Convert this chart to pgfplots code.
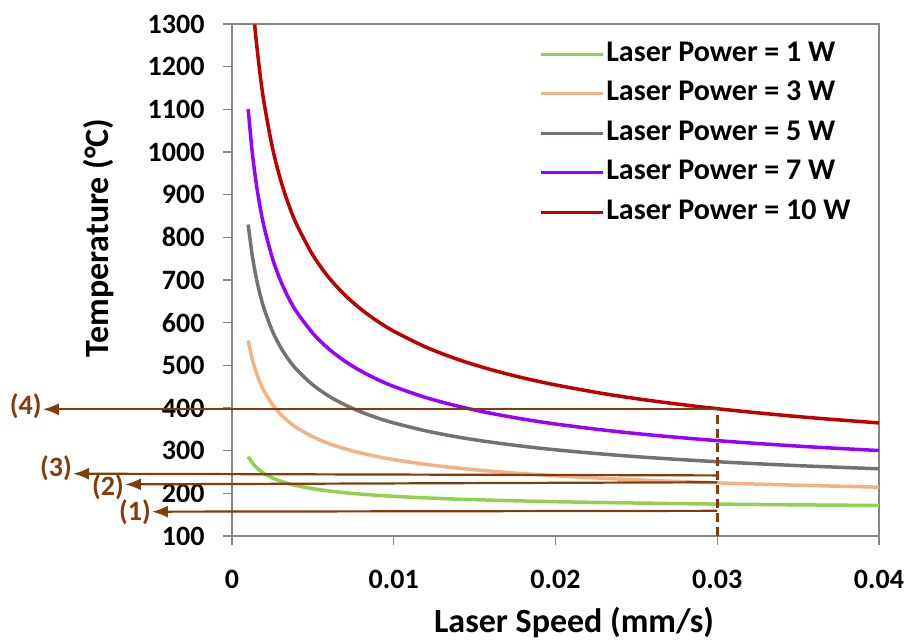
\documentclass[border=0pt]{standalone}
\usepackage{pgfplots}
\pgfplotsset{compat=1.18}
\usepackage{fontspec}
\setmainfont{Carlito}
\usetikzlibrary{arrows.meta}
\definecolor{cgreen}{HTML}{92D050}
\definecolor{corange}{HTML}{F4B183}
\definecolor{cgray}{HTML}{767171}
\definecolor{cpurple}{HTML}{9900FF}
\definecolor{cred}{HTML}{C00000}
\definecolor{cbrown}{HTML}{843C0C}
\definecolor{caxis}{HTML}{868686}
\begin{document}
\begin{tikzpicture}
\begin{axis}[
  scale only axis, width=647pt, height=512pt,
  xmin=0, xmax=0.04, ymin=100, ymax=1300,
  xtick={0,0.01,0.02,0.03,0.04}, xticklabels={0,0.01,0.02,0.03,0.04},
  scaled x ticks=false,
  ytick={100,200,...,1300},
  /pgf/number format/assume math mode=true,
  /pgf/number format/1000 sep={},
  tick align=outside, xtick pos=left, ytick pos=left,
  major tick length=9pt,
  every tick/.style={caxis, line width=1.2pt},
  axis line style={caxis, line width=1.5pt},
  tick label style={font=\fontsize{28}{28}\selectfont\bfseries},
  yticklabel style={xshift=-15pt},
  xticklabel style={yshift=-22pt},
  xlabel={Laser Speed (mm/s)}, ylabel={Temperature (°C)},
  label style={font=\fontsize{34}{34}\selectfont\bfseries},
  xlabel style={at={(axis description cs:0.5286,-0.17)}, anchor=center},
  ylabel style={at={(axis description cs:-0.2056,0.582)}, anchor=center},
  clip=false,
  legend cell align=left,
  legend style={at={(axis description cs:0.47,0.9785)}, anchor=north west, draw=none, fill=none,
    font=\fontsize{30}{30}\selectfont\bfseries, row sep=5.5pt,
    nodes={inner sep=2pt, text height=22pt, text depth=8pt}},
  legend image code/.code={\draw[#1, line width=3pt] (0pt,0pt) -- (62pt,0pt);},
  every axis plot/.append style={line width=3.5pt, smooth},
]
\addplot[cgreen] coordinates {
(0.001,286.0) (0.00125,271.6) (0.0015,261.0) (0.00175,252.8) (0.002,246.2) (0.0025,236.0)
(0.003,228.5) (0.0035,222.7) (0.004,218.0) (0.005,210.8) (0.006,205.5) (0.007,201.4)
(0.008,198.1) (0.009,195.3) (0.010,193.0) (0.012,189.3) (0.014,186.3) (0.016,184.0)
(0.018,182.1) (0.020,180.4) (0.023,178.4) (0.026,176.7) (0.030,174.8) (0.035,173.0) (0.040,171.5)};
\addlegendentry{Laser Power = 1 W}
\addplot[corange] coordinates {
(0.001,557.9) (0.00125,514.9) (0.0015,483.1) (0.00175,458.4) (0.002,438.5) (0.0025,408.0)
(0.003,385.5) (0.0035,368.0) (0.004,354.0) (0.005,332.4) (0.006,316.5) (0.007,304.2)
(0.008,294.2) (0.009,286.0) (0.010,279.0) (0.012,267.8) (0.014,259.0) (0.016,252.0)
(0.018,246.2) (0.020,241.2) (0.023,235.1) (0.026,230.0) (0.030,224.5) (0.035,219.0) (0.040,214.5)};
\addlegendentry{Laser Power = 3 W}
\addplot[cgray] coordinates {
(0.001,829.9) (0.00125,758.1) (0.0015,705.1) (0.00175,664.0) (0.002,630.8) (0.0025,580.0)
(0.003,542.5) (0.0035,513.4) (0.004,489.9) (0.005,454.1) (0.006,427.6) (0.007,407.0)
(0.008,390.4) (0.009,376.6) (0.010,365.0) (0.012,346.3) (0.014,331.7) (0.016,320.0)
(0.018,310.3) (0.020,302.0) (0.023,291.8) (0.026,283.3) (0.030,274.1) (0.035,264.9) (0.040,257.5)};
\addlegendentry{Laser Power = 5 W}
\addplot[cpurple] coordinates {
(0.001,1100.3) (0.00125,999.9) (0.0015,925.9) (0.00175,868.3) (0.002,821.9) (0.0025,751.0)
(0.003,698.6) (0.0035,657.9) (0.004,625.1) (0.005,575.0) (0.006,537.9) (0.007,509.2)
(0.008,486.0) (0.009,466.8) (0.010,450.5) (0.012,424.3) (0.014,404.0) (0.016,387.6)
(0.018,374.0) (0.020,362.5) (0.023,348.2) (0.026,336.4) (0.030,323.5) (0.035,310.6) (0.040,300.3)};
\addlegendentry{Laser Power = 7 W}
\addplot[cred] coordinates {
(0.0014,1299.0) (0.0015,1260.3) (0.00175,1177.9) (0.002,1111.5) (0.0025,1010.0)
(0.003,935.1) (0.0035,876.8) (0.004,829.9) (0.005,758.1) (0.006,705.1) (0.007,663.9)
(0.008,630.7) (0.009,603.3) (0.010,580.0) (0.012,542.5) (0.014,513.4) (0.016,490.0)
(0.018,470.5) (0.020,454.1) (0.023,433.5) (0.026,416.7) (0.030,398.3) (0.035,379.8) (0.040,365.0)};
\addlegendentry{Laser Power = 10 W}
% annotation arrows
\addplot[cbrown, line width=2.8pt, dash pattern=on 9pt off 5pt, forget plot, sharp plot] coordinates {(0.03,100) (0.03,400)};
\addplot[cbrown, line width=2.2pt, sharp plot, -{Latex[length=16pt,width=12pt]}, forget plot] coordinates {(0.03,397) (-0.0117,397)};
\addplot[cbrown, line width=2.2pt, sharp plot, -{Latex[length=16pt,width=12pt]}, forget plot] coordinates {(0.03,242) (-0.00983,246)};
\addplot[cbrown, line width=2.2pt, sharp plot, -{Latex[length=16pt,width=12pt]}, forget plot] coordinates {(0.03,226) (-0.00662,221)};
\addplot[cbrown, line width=2.2pt, sharp plot, -{Latex[length=16pt,width=12pt]}, forget plot] coordinates {(0.03,159) (-0.00495,157)};
\node[anchor=east, text=cbrown, font=\fontsize{28}{28}\selectfont\bfseries, inner sep=1pt] at (axis cs:-0.0117,404) {(4)};
\node[anchor=east, text=cbrown, font=\fontsize{28}{28}\selectfont\bfseries, inner sep=1pt] at (axis cs:-0.00983,259) {(3)};
\node[anchor=east, text=cbrown, font=\fontsize{28}{28}\selectfont\bfseries, inner sep=1pt] at (axis cs:-0.00662,214) {(2)};
\node[anchor=east, text=cbrown, font=\fontsize{28}{28}\selectfont\bfseries, inner sep=1pt] at (axis cs:-0.00495,155) {(1)};
\end{axis}
\path ([shift={(-232pt,-102pt)}]current axis.south west) rectangle ([shift={(30pt,24pt)}]current axis.north east);
\end{tikzpicture}
\end{document}
